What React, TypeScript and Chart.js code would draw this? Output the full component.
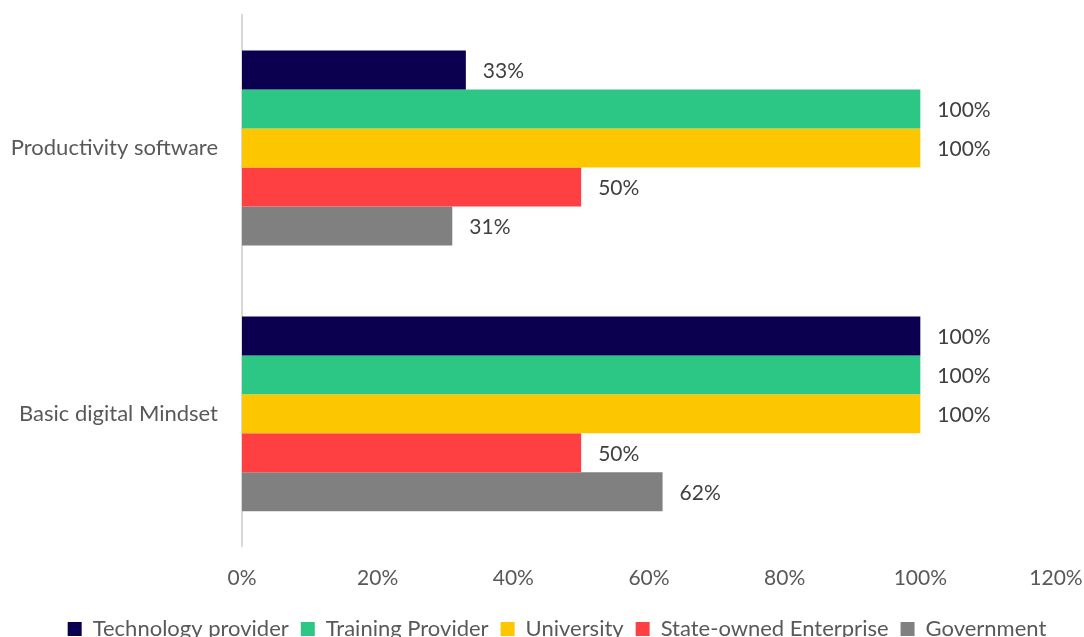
import React, { useEffect, useRef } from "react";
import { Chart, registerables } from "chart.js";

Chart.register(...registerables);

const categories = ["Productivity software", "Basic digital Mindset"];
const seriesNames = ["Technology provider", "Training Provider", "University", "State-owned Enterprise", "Government"];
const seriesColors = ["#0B004F", "#2CC784", "#FDC700", "#FF4043", "#808080"];
const technologyProvider = [33, 100];
const trainingProvider = [100, 100];
const university = [100, 100];
const stateOwnedEnterprise = [50, 50];
const government = [31, 62];
const seriesValues = [technologyProvider, trainingProvider, university, stateOwnedEnterprise, government];

const FONT = "Lato, 'Open Sans', sans-serif";

const dataLabelPlugin = {
  id: "dataLabels",
  afterDatasetsDraw(chart: any) {
    const ctx = chart.ctx;
    ctx.save();
    ctx.font = `21px ${FONT}`;
    ctx.fillStyle = "#404040";
    ctx.textAlign = "left";
    ctx.textBaseline = "middle";
    chart.data.datasets.forEach((ds: any, i: number) => {
      const meta = chart.getDatasetMeta(i);
      meta.data.forEach((bar: any, j: number) => {
        ctx.fillText(`${ds.data[j]}%`, bar.x + 17, bar.y + 1);
      });
    });
    ctx.restore();
  },
};

const legendShiftPlugin = {
  id: "legendShift",
  afterLayout(chart: any) {
    const lg = chart.legend;
    if (lg) {
      lg.left += 15;
      lg.right += 15;
    }
  },
};

export default function App() {
  const ref = useRef<HTMLCanvasElement | null>(null);
  useEffect(() => {
    if (!ref.current) return;
    const chart = new Chart(ref.current, {
      type: "bar",
      data: {
        labels: categories,
        datasets: seriesNames.map((name, i) => ({
          label: name,
          data: seriesValues[i],
          backgroundColor: seriesColors[i],
          borderWidth: 0,
          categoryPercentage: 0.733,
          barPercentage: 1,
        })),
      },
      options: {
        indexAxis: "y",
        animation: false,
        responsive: false,
        maintainAspectRatio: false,
        layout: { padding: { top: 15, right: 0, left: 0, bottom: 0 } },
        scales: {
          x: {
            min: 0,
            max: 120,
            ticks: {
              stepSize: 20,
              callback: (v: any) => `${v}%`,
              color: "#595959",
              font: { family: FONT, size: 21 },
              padding: 11,
            },
            grid: { display: false },
            border: { display: false },
            afterFit: (scale: any) => {
              scale.paddingRight = 28;
              scale.paddingLeft = 0;
              scale.height += 4;
            },
          },
          y: {
            ticks: {
              color: "#595959",
              font: { family: FONT, size: 22 },
              padding: 24,
            },
            grid: { display: false, drawTicks: false },
            border: { display: true, color: "#D9D9D9", width: 2 },
            afterFit: (scale: any) => {
              scale.width = 242;
              scale.paddingTop = 0;
              scale.paddingBottom = 0;
            },
          },
        },
        plugins: {
          legend: {
            position: "bottom",
            labels: {
              color: "#595959",
              font: { family: FONT, size: 22 },
              boxWidth: 14,
              boxHeight: 14,
              padding: 12,
            },
          },
          tooltip: { enabled: false },
        },
      },
      plugins: [dataLabelPlugin, legendShiftPlugin],
    });
    return () => chart.destroy();
  }, []);
  return (
    <div style={{ position: "fixed", left: 0, top: 0, width: 1084, height: 637, overflow: "hidden", background: "#fff" }}>
      <canvas ref={ref} width={1084} height={650} style={{ display: "block" }} />
    </div>
  );
}
